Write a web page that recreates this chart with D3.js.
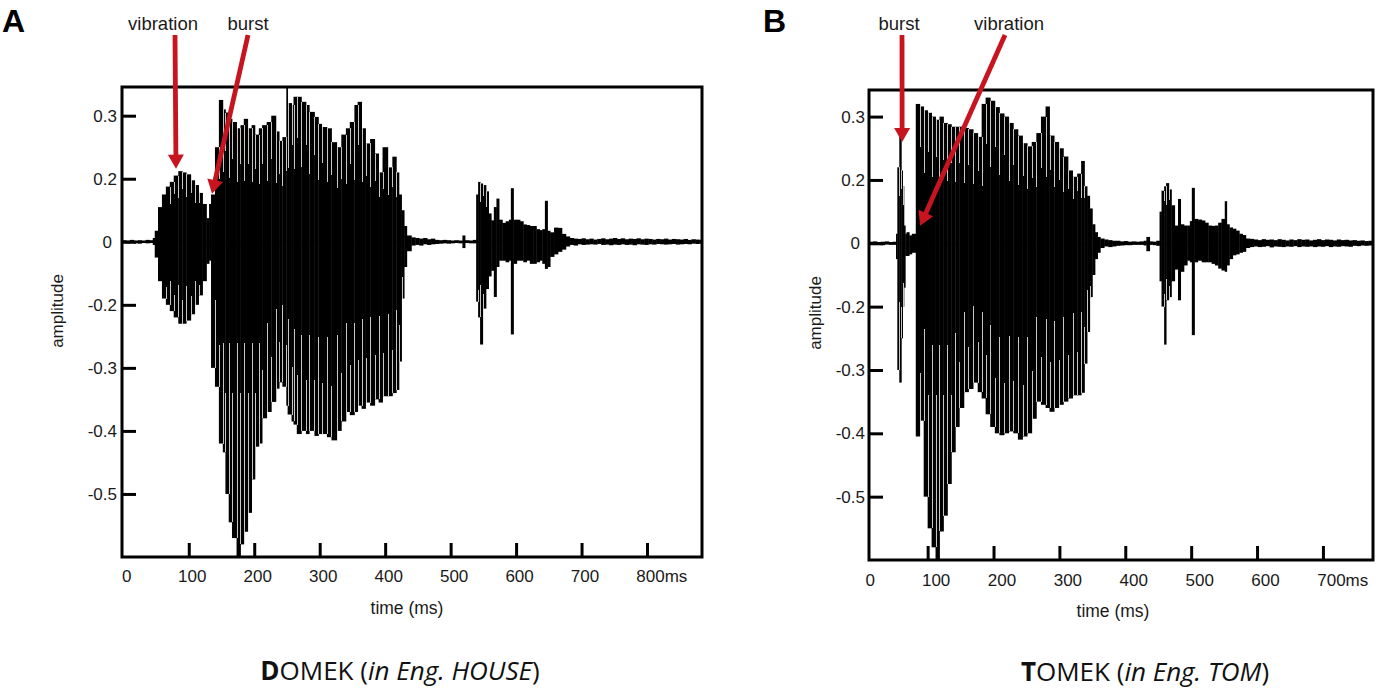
<!DOCTYPE html>
<html><head><meta charset="utf-8">
<script src="https://cdn.jsdelivr.net/npm/d3@7/dist/d3.min.js"></script>
<style>body{margin:0;background:#fff}svg{display:block}</style>
</head><body>
<svg id="chart" width="1396" height="695"></svg>
<script>
// ---------------- data ----------------
const yTickLabels = [0.3, 0.2, 0, -0.2, -0.3, -0.4, -0.5];
const xTicksA = [0, 100, 200, 300, 400, 500, 600, 700, 800];
const xTicksB = [0, 100, 200, 300, 400, 500, 600, 700];

// Panel A: DOMEK  (time in ms, upper / lower amplitude of each waveform column)
const timeA = [-2,4,10,16,22,28,34,40,45,
  48,53,59,65,71,77,84,90,96,103,109,115,121,127,131,
  134,140,146,152,156,161,166,173,179,184,190,196,201,207,212,219,226,233,238,243,
  249,251,257,260,265,272,279,284,292,298,303,311,318,326,333,340,346,353,358,364,
  370,377,384,390,396,404,411,417,421,425,429,433,
  440,446,452,458,464,470,476,482,488,494,500,506,512,518,522,528,534,
  539,542,545,549,554,558,562,566,570,574,579,584,589,592,596,601,606,611,616,621,
  626,631,636,640,644,648,652,658,664,670,676,
  682,688,694,700,706,712,718,724,730,736,742,748,754,760,766,772,778,784,790,796,
  802,808,814,820,826,832,838,844,850,856,862,868,874,880,884];
const upperA = [0.005,0.004,0.006,0.004,0.005,0.004,0.006,0.005,0.012,
  0.035,0.11,0.15,0.175,0.19,0.205,0.212,0.21,0.207,0.195,0.18,0.155,0.12,0.075,0.12,
  0.15,0.25,0.325,0.31,0.305,0.295,0.29,0.28,0.285,0.295,0.28,0.285,0.27,0.28,0.285,0.29,0.30,0.275,0.26,0.266,
  0.345,0.32,0.317,0.33,0.33,0.322,0.317,0.306,0.298,0.287,0.282,0.28,0.258,0.25,0.27,0.28,0.29,0.317,0.322,0.28,
  0.256,0.263,0.24,0.21,0.25,0.218,0.235,0.21,0.15,0.10,0.05,0.02,
  0.014,0.012,0.010,0.012,0.008,0.010,0.006,0.005,0.006,0.005,0.004,0.005,0.004,0.020,0.005,0.004,0.006,
  0.15,0.19,0.185,0.18,0.16,0.09,0.068,0.11,0.137,0.07,0.06,0.065,0.07,0.17,0.07,0.07,0.065,0.055,0.053,0.05,
  0.05,0.04,0.037,0.04,0.13,0.035,0.03,0.045,0.044,0.025,0.017,
  0.012,0.010,0.009,0.011,0.008,0.010,0.007,0.009,0.011,0.008,0.010,0.012,0.009,0.011,0.008,0.010,0.009,0.011,0.008,0.010,
  0.009,0.007,0.009,0.008,0.010,0.007,0.009,0.008,0.007,0.009,0.006,0.008,0.007,0.006,0.005];
const lowerA = [-0.004,-0.005,-0.004,-0.005,-0.006,-0.004,-0.005,-0.004,-0.010,
  -0.05,-0.125,-0.18,-0.20,-0.21,-0.22,-0.23,-0.23,-0.225,-0.215,-0.20,-0.17,-0.125,-0.07,-0.06,
  -0.30,-0.33,-0.42,-0.434,-0.50,-0.545,-0.57,-0.60,-0.58,-0.56,-0.53,-0.477,-0.425,-0.42,-0.38,-0.37,-0.354,-0.333,-0.323,-0.33,
  -0.36,-0.374,-0.385,-0.39,-0.405,-0.40,-0.405,-0.40,-0.408,-0.405,-0.405,-0.41,-0.415,-0.40,-0.385,-0.37,-0.375,-0.37,-0.36,-0.365,
  -0.355,-0.36,-0.35,-0.355,-0.345,-0.345,-0.34,-0.335,-0.29,-0.18,-0.08,-0.03,
  -0.012,-0.010,-0.012,-0.008,-0.010,-0.008,-0.007,-0.006,-0.005,-0.006,-0.005,-0.004,-0.005,-0.020,-0.004,-0.005,-0.005,
  -0.19,-0.22,-0.263,-0.206,-0.15,-0.11,-0.092,-0.175,-0.08,-0.06,-0.06,-0.065,-0.06,-0.247,-0.07,-0.06,-0.06,-0.065,-0.06,-0.07,
  -0.07,-0.065,-0.06,-0.07,-0.086,-0.08,-0.048,-0.04,-0.032,-0.025,-0.015,
  -0.010,-0.012,-0.008,-0.010,-0.009,-0.008,-0.009,-0.007,-0.010,-0.009,-0.011,-0.009,-0.010,-0.008,-0.010,-0.009,-0.011,-0.008,-0.009,-0.010,
  -0.008,-0.009,-0.007,-0.008,-0.009,-0.008,-0.007,-0.009,-0.008,-0.007,-0.008,-0.006,-0.007,-0.006,-0.005];

// Panel B: TOMEK
const timeB = [11,17,23,29,35,41,47,
  52,54,57,60,62,64,66,68,72,76,
  82,88,94,100,106,112,118,124,130,136,142,148,155,162,169,176,182,188,195,202,
  209,216,223,230,237,244,251,258,265,272,279,285,292,299,306,313,320,327,333,338,
  342,346,350,354,358,
  362,368,374,380,386,392,398,404,410,416,422,428,432,437,442,447,
  452,455,459,462,466,470,475,480,484,489,494,498,501,505,510,516,521,526,531,536,
  541,546,551,554,558,563,568,573,578,583,
  589,595,601,607,613,619,625,631,637,643,649,655,661,667,673,679,685,691,697,703,
  709,715,721,727,733,739,745,751,757,763,769,775,777];
const upperB = [0.005,0.006,0.004,0.005,0.006,0.004,0.005,
  0.03,0.22,0.27,0.215,0.18,0.056,0.03,0.035,0.025,0.03,
  0.32,0.316,0.31,0.306,0.30,0.295,0.30,0.29,0.288,0.284,0.284,0.284,0.282,0.28,0.274,0.268,0.32,0.33,0.325,0.315,
  0.305,0.30,0.29,0.28,0.27,0.258,0.253,0.26,0.274,0.30,0.316,0.27,0.26,0.25,0.237,0.215,0.205,0.21,0.23,0.18,
  0.15,0.11,0.06,0.035,0.02,
  0.015,0.012,0.010,0.008,0.008,0.006,0.007,0.005,0.006,0.005,0.006,0.008,0.020,0.006,0.005,0.008,
  0.10,0.166,0.18,0.19,0.17,0.12,0.056,0.14,0.06,0.056,0.056,0.07,0.175,0.077,0.075,0.072,0.065,0.056,0.055,0.056,
  0.065,0.077,0.133,0.06,0.05,0.046,0.04,0.03,0.026,0.015,
  0.014,0.012,0.010,0.013,0.011,0.012,0.010,0.013,0.011,0.009,0.012,0.010,0.013,0.011,0.012,0.009,0.011,0.013,0.010,0.012,
  0.011,0.009,0.012,0.010,0.011,0.009,0.010,0.008,0.009,0.007,0.008,0.006,0.005];
const lowerB = [-0.004,-0.005,-0.005,-0.006,-0.004,-0.005,-0.005,
  -0.05,-0.30,-0.32,-0.25,-0.20,-0.14,-0.04,-0.04,-0.035,-0.03,
  -0.405,-0.38,-0.50,-0.55,-0.58,-0.60,-0.555,-0.53,-0.48,-0.43,-0.39,-0.36,-0.335,-0.33,-0.32,-0.335,-0.345,-0.37,-0.39,-0.40,
  -0.403,-0.40,-0.397,-0.40,-0.41,-0.405,-0.40,-0.377,-0.35,-0.355,-0.36,-0.366,-0.36,-0.355,-0.35,-0.345,-0.34,-0.34,-0.336,-0.29,
  -0.24,-0.17,-0.10,-0.05,-0.03,
  -0.015,-0.010,-0.012,-0.010,-0.008,-0.007,-0.006,-0.006,-0.005,-0.005,-0.005,-0.007,-0.025,-0.005,-0.006,-0.008,
  -0.12,-0.20,-0.26,-0.18,-0.17,-0.12,-0.083,-0.18,-0.09,-0.07,-0.055,-0.06,-0.245,-0.06,-0.055,-0.06,-0.06,-0.06,-0.065,-0.07,
  -0.08,-0.086,-0.09,-0.07,-0.05,-0.038,-0.035,-0.03,-0.027,-0.015,
  -0.012,-0.010,-0.012,-0.011,-0.009,-0.013,-0.010,-0.011,-0.012,-0.010,-0.011,-0.009,-0.012,-0.010,-0.011,-0.010,-0.012,-0.010,-0.011,-0.009,
  -0.012,-0.010,-0.011,-0.009,-0.010,-0.011,-0.008,-0.009,-0.007,-0.008,-0.007,-0.006,-0.005];

// annotation arrows: label and the (time, amplitude) point the arrow tip touches
const annotLabelsA = ["vibration", "burst"];
const annotTimeA = [80.5, 135.5];
const annotAmpA = [0.216, 0.152];
const annotLabelsB = ["burst", "vibration"];
const annotTimeB = [61.3, 88.6];
const annotAmpB = [0.26, 0.055];

const captionsWord = ["DOMEK", "TOMEK"];
const captionsGloss = ["in Eng. HOUSE", "in Eng. TOM"];

// ---------------- layout / drawing ----------------
const svg = d3.select("#chart");
const FONT = "'Liberation Sans', Arial, sans-serif";
const RED = "#c8141e";

const panels = [
  {id:"A", time:timeA, up:upperA, lo:lowerA, xTicks:xTicksA, lastSuffix:"ms",
   left:122, right:702, top:87, bottom:557, off:0.455, xDomain:[-2, 884], xLabelDx:3, xPad:13, yPad:5,
   letterX:2, annotLabels:annotLabelsA, annotT:annotTimeA, annotV:annotAmpA,
   annotTextX:[163, 248], annotStartX:[175, 248], yTitleX:57, yTitleY:311,
   xTitleX:407, xTitleY:614, capX:400, capY:680, word:captionsWord[0], gloss:captionsGloss[0]},
  {id:"B", time:timeB, up:upperB, lo:lowerB, xTicks:xTicksB, lastSuffix:"ms",
   left:869, right:1373, top:90, bottom:560, off:0.42, xDomain:[11, 776], xLabelDx:8, xPad:14, yPad:4,
   letterX:763, annotLabels:annotLabelsB, annotT:annotTimeB, annotV:annotAmpB,
   annotTextX:[899, 1009], annotStartX:[902, 1005], yTitleX:815, yTitleY:313,
   xTitleX:1113, xTitleY:617, capX:1145, capY:681, word:captionsWord[1], gloss:captionsGloss[1]}
];

panels.forEach((p) => {
  const x = d3.scaleLinear().domain(p.xDomain).range([p.left, p.right]);
  const step = (p.bottom - p.top) / (7 + p.off);
  const y = d3.scaleLinear().domain(yTickLabels)
    .range(yTickLabels.map((d, i) => p.top + (i + p.off) * step));

  const g = svg.append("g");
  const clipId = "clip" + p.id;
  svg.append("clipPath").attr("id", clipId).append("rect")
    .attr("x", p.left).attr("y", p.top).attr("width", p.right - p.left).attr("height", p.bottom - p.top);

  const plot = g.append("g").attr("clip-path", `url(#${clipId})`);
  plot.append("line").attr("x1", p.left).attr("x2", p.right)
    .attr("y1", y(0)).attr("y2", y(0)).attr("stroke", "#3f8790").attr("stroke-width", 1);

  const n = p.time.length;
  const cols = d3.range(n - 1);
  plot.selectAll("rect.col").data(cols).join("rect").attr("class", "col")
    .attr("x", i => x(p.time[i]))
    .attr("width", i => Math.max(0.9, x(p.time[i + 1]) - x(p.time[i]) + 0.4))
    .attr("y", i => y(p.up[i]))
    .attr("height", i => Math.max(1, y(p.lo[i]) - y(p.up[i])))
    .attr("fill", "#000");

  // thin light seams between neighbouring pulses (length alternates for a less regular look)
  const seams = [];
  for (let i = 1; i < n - 1; i++) {
    const lo = Math.max(p.lo[i - 1], p.lo[i]);
    const hi = Math.min(p.up[i - 1], p.up[i]);
    const odd = i % 2 === 1;
    if (lo < -0.15) seams.push({t: p.time[i], a: lo, b: odd ? Math.max(lo * 0.62, -0.26) : Math.max(lo * 0.8, -0.34)});
    if (hi > 0.15) seams.push({t: p.time[i], a: hi, b: hi * (odd ? 0.68 : 0.8)});
  }
  plot.selectAll("line.seam").data(seams).join("line").attr("class", "seam")
    .attr("x1", d => Math.round(x(d.t)) + 0.5).attr("x2", d => Math.round(x(d.t)) + 0.5)
    .attr("y1", d => y(d.a)).attr("y2", d => y(d.b))
    .attr("stroke", "#c6c6c6").attr("stroke-width", 1).attr("shape-rendering", "crispEdges");

  // axes
  const ya = d3.axisLeft(y).tickValues(yTickLabels).tickSize(-14).tickPadding(p.yPad)
    .tickFormat(d => String(d));
  const yg = g.append("g").attr("transform", `translate(${p.left},0)`).call(ya);
  yg.select(".domain").remove();
  yg.selectAll(".tick line").attr("stroke", "#000").attr("stroke-width", 3);
  yg.selectAll(".tick text").attr("font-family", FONT).attr("font-size", 17).attr("fill", "#1a1a1a")
    .attr("dx", d => d === 0 ? -5 : 0);

  const xa = d3.axisBottom(x).tickValues(p.xTicks).tickSize(-14).tickPadding(p.xPad)
    .tickFormat(d => String(d));
  const xg = g.append("g").attr("transform", `translate(0,${p.bottom})`).call(xa);
  xg.select(".domain").remove();
  xg.selectAll(".tick line").attr("stroke", "#000").attr("stroke-width", 3)
    .attr("display", d => (x(d) <= p.left + 3) ? "none" : null);
  xg.selectAll(".tick text").attr("font-family", FONT).attr("font-size", 17).attr("fill", "#1a1a1a")
    .attr("dx", p.xLabelDx);
  const lastT = p.xTicks[p.xTicks.length - 1];
  xg.selectAll(".tick text").filter(d => d === lastT).each(function () {
    const w = this.getComputedTextLength();
    d3.select(this).attr("text-anchor", "start").attr("x", -w / 2).text(String(lastT) + p.lastSuffix);
  });

  // frame
  g.append("rect").attr("x", p.left).attr("y", p.top).attr("width", p.right - p.left)
    .attr("height", p.bottom - p.top).attr("fill", "none").attr("stroke", "#000").attr("stroke-width", 3);

  // titles
  g.append("text").attr("transform", `translate(${p.yTitleX},${p.yTitleY}) rotate(-90)`)
    .attr("text-anchor", "middle").attr("dominant-baseline", "central")
    .attr("font-family", FONT).attr("font-size", 17).attr("fill", "#1a1a1a").text("amplitude");
  g.append("text").attr("x", p.xTitleX).attr("y", p.xTitleY).attr("text-anchor", "middle")
    .attr("font-family", FONT).attr("font-size", 17.5).attr("fill", "#1a1a1a").text("time (ms)");

  // panel letter
  g.append("text").attr("x", p.letterX).attr("y", 32).attr("font-family", FONT)
    .attr("font-weight", "bold").attr("font-size", 32).attr("fill", "#000").text(p.id);

  // annotations
  p.annotLabels.forEach((lab, k) => {
    g.append("text").attr("x", p.annotTextX[k]).attr("y", 30).attr("text-anchor", "middle")
      .attr("font-family", FONT).attr("font-size", 18.5).attr("fill", "#1a1a1a").text(lab);
    const x0 = p.annotStartX[k], y0 = 35;
    const x1 = x(p.annotT[k]), y1 = y(p.annotV[k]);
    const dx = x1 - x0, dy = y1 - y0, L = Math.hypot(dx, dy);
    const ux = dx / L, uy = dy / L;
    const headL = 14, headW = 8;
    const bx = x1 - ux * headL, by = y1 - uy * headL;
    g.append("line").attr("x1", x0).attr("y1", y0).attr("x2", bx + ux).attr("y2", by + uy)
      .attr("stroke", RED).attr("stroke-width", 4.8);
    g.append("polygon").attr("fill", RED).attr("points", [
      [x1, y1], [bx - uy * headW, by + ux * headW], [bx + uy * headW, by - ux * headW]
    ].map(q => q.join(",")).join(" "));
  });

  // caption
  const cap = svg.append("text").attr("x", p.capX).attr("y", p.capY).attr("text-anchor", "middle")
    .attr("font-family", "'Open Sans', 'Noto Sans', sans-serif").attr("font-size", 26).attr("fill", "#111");
  cap.append("tspan").attr("font-weight", "bold").text(p.word[0]);
  cap.append("tspan").text(p.word.slice(1) + " (");
  cap.append("tspan").attr("font-style", "italic").text(p.gloss);
  cap.append("tspan").text(")");
});
</script>
</body></html>
